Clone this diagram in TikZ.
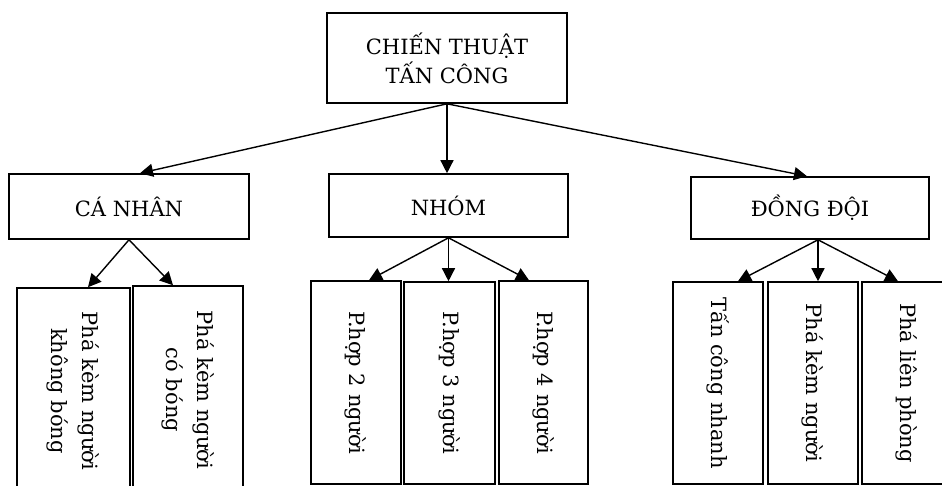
\documentclass[tikz,border=0pt]{standalone}
\usepackage{fontspec}
\setmainfont{DejaVu Serif}
\usetikzlibrary{arrows.meta}
\begin{document}
\begin{tikzpicture}[x=1pt,y=-1pt,
  box/.style={draw=black,line width=1.6pt,rectangle,inner sep=0pt,fill=white},
  lbl/.style={font=\fontsize{21}{29}\selectfont,align=center},
  vlbl/.style={rotate=-90,font=\fontsize{21}{31}\selectfont,align=center},
  arr/.style={line width=1.4pt,-{Triangle[length=13pt,width=13pt]}}]
\useasboundingbox (0,0) rectangle (942,485);
% level 0
\node[box,minimum width=240pt,minimum height=90pt] (top) at (447,58) {};
\node[lbl] at (top) {CHIẾN THUẬT\\TẤN CÔNG};
% level 1
\node[box,minimum width=240pt,minimum height=65pt] (can) at (129,206.5) {};
\node[lbl] at (can) {CÁ NHÂN};
\node[box,minimum width=239pt,minimum height=63pt] (nhom) at (448.5,205.5) {};
\node[lbl] at (nhom) {NHÓM};
\node[box,minimum width=238pt,minimum height=62pt] (dd) at (810,208) {};
\node[lbl] at (dd) {ĐỒNG ĐỘI};
% level 2
\node[box,minimum width=113pt,minimum height=206pt] (c1) at (73.5,391) {};
\node[vlbl] at (c1) {Phá kèm người\\không bóng};
\node[box,minimum width=110pt,minimum height=208pt] (c2) at (188,390) {};
\node[vlbl] at (c2) {Phá kèm người\\có bóng};
\node[box,minimum width=90pt,minimum height=203pt] (n1) at (356,382.5) {};
\node[vlbl] at (n1) {P.hợp 2 người};
\node[box,minimum width=91pt,minimum height=202pt] (n2) at (449.5,383) {};
\node[vlbl] at (n2) {P.hợp 3 người};
\node[box,minimum width=89pt,minimum height=203pt] (n3) at (543.5,382.5) {};
\node[vlbl] at (n3) {P.hợp 4 người};
\node[box,minimum width=90pt,minimum height=202pt] (d1) at (718,383) {};
\node[vlbl] at (d1) {Tấn công nhanh};
\node[box,minimum width=90pt,minimum height=202pt] (d2) at (813,383) {};
\node[vlbl] at (d2) {Phá kèm người};
\node[box,minimum width=90pt,minimum height=202pt] (d3) at (907,383) {};
\node[vlbl] at (d3) {Phá liên phòng};
% arrows level 0 -> 1
\draw[arr] (top.south) -- ([xshift=11pt]can.north);
\draw[arr] (top.south) -- (top.south |- nhom.north);
\draw[arr] (top.south) -- ([xshift=-3pt]dd.north);
% arrows level 1 -> 2
\draw[arr] (can.south) -- ([xshift=14.5pt]c1.north);
\draw[arr] (can.south) -- ([xshift=-15pt]c2.north);
\draw[arr] (nhom.south) -- ([xshift=13pt]n1.north);
\draw[arr] (nhom.south) -- (nhom.south |- n2.north);
\draw[arr] (nhom.south) -- ([xshift=-14.5pt]n3.north);
\coordinate (ddo) at ([xshift=8pt]dd.south);
\draw[arr] (ddo) -- ([xshift=20pt]d1.north);
\draw[arr] (ddo) -- (ddo |- d2.north);
\draw[arr] (ddo) -- ([xshift=-9pt]d3.north);
\end{tikzpicture}
\end{document}
